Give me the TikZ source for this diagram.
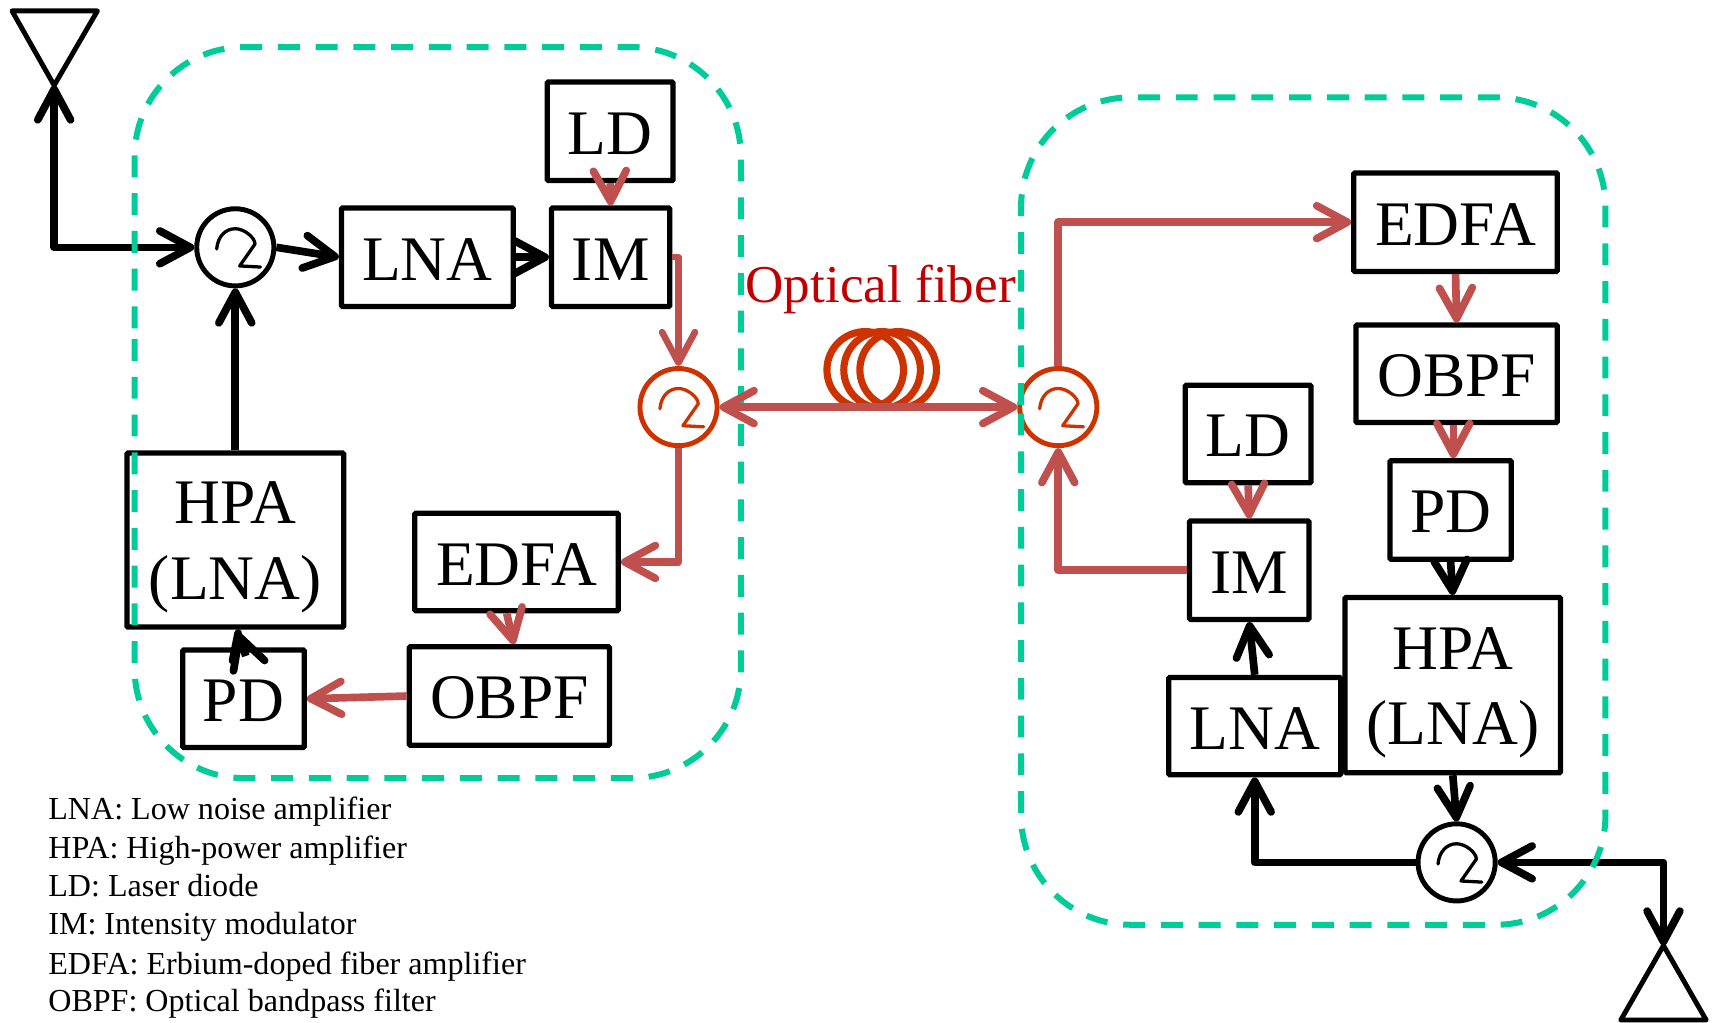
\documentclass[tikz,border=0pt]{standalone}
\usepackage{fontspec}
\setmainfont{Liberation Serif}
\usetikzlibrary{arrows.meta,calc}
\definecolor{fibre}{HTML}{C0504D}
\definecolor{coil}{HTML}{CC3300}
\definecolor{zone}{HTML}{00CC99}
\definecolor{fibretext}{HTML}{C00000}
\newcommand\lowone[1]{\raisebox{-2pt}[\height][\depth]{#1}}
\newcommand\lowtwo[2]{\raisebox{-6pt}[\height][\depth]{\begin{tabular}{@{}c@{}}#1\\#2\end{tabular}}}
\tikzset{
  x=1pt,y=-1pt,
  boxnode/.style={draw=black,line width=4.8pt,rounded corners=1pt,inner sep=0pt,align=center,
    font=\fontsize{58}{69}\selectfont},
  circnode/.style={circle,draw=#1,line width=4.5pt,minimum size=70.5pt,inner sep=0pt},
  barb/.tip={Straight Barb[length=28pt,width=30pt,round]},
  blackarrow/.style={draw=black,line width=7pt,line join=round},
  redarrow/.style={draw=fibre,line width=7pt,line join=round},
  zonebox/.style={draw=zone,line width=5.5pt,dash pattern=on 20pt off 14.5pt,rounded corners=100pt},
  legendtext/.style={anchor=base west,inner sep=0pt,font=\fontsize{29.3}{32}\selectfont},
  curl/.pic={\draw[line width=3pt,line join=round,line cap=round]
    (-17,1.5) .. controls (-16,-10) and (-9,-17) .. (0,-17)
    .. controls (8,-17) and (18,-9) .. (18,-3) -- (4,17) -- (23,18);},
}
\begin{document}
\begin{tikzpicture}
\useasboundingbox (0,0) rectangle (1568,934);
% left unit
\node[boxnode,minimum width=157pt,minimum height=90pt] (lnaL) at (390.5,235) {\lowone{LNA}};
\node[boxnode,minimum width=108pt,minimum height=90pt] (imL) at (558,235) {\lowone{IM}};
\node[boxnode,minimum width=115pt,minimum height=90pt] (ldL) at (557.5,120) {\lowone{LD}};
\node[boxnode,minimum width=198pt,minimum height=159pt] (hpaL) at (215,493.5) {\lowtwo{HPA}{(LNA)}};
\node[boxnode,minimum width=111pt,minimum height=89pt] (pdL) at (222.5,638.5) {\lowone{PD}};
\node[boxnode,minimum width=183pt,minimum height=90pt] (obpfL) at (465.5,636) {\lowone{OBPF}};
\node[boxnode,minimum width=186pt,minimum height=89pt] (edfaL) at (472,513.5) {\lowone{EDFA}};
\node[circnode=black] (c1) at (215,226) {};
\node[circnode=coil] (c2) at (620,372) {};
% right unit
\node[boxnode,minimum width=186pt,minimum height=90pt] (edfaR) at (1330,203) {\lowone{EDFA}};
\node[boxnode,minimum width=184pt,minimum height=89pt] (obpfR) at (1331,341.5) {\lowone{OBPF}};
\node[boxnode,minimum width=111pt,minimum height=90pt] (pdR) at (1325.5,466) {\lowone{PD}};
\node[boxnode,minimum width=197pt,minimum height=160pt] (hpaR) at (1327.5,626) {\lowtwo{HPA}{(LNA)}};
\node[boxnode,minimum width=115pt,minimum height=89pt] (ldR) at (1140.5,396.5) {\lowone{LD}};
\node[boxnode,minimum width=109pt,minimum height=90pt] (imR) at (1141.5,521) {\lowone{IM}};
\node[boxnode,minimum width=157pt,minimum height=89pt] (lnaR) at (1146.5,663.5) {\lowone{LNA}};
\node[circnode=coil] (c3) at (967,372) {};
\node[circnode=black] (c4) at (1331,788) {};
\pic[color=black] at (c1) {curl};
\pic[color=coil] at (c2) {curl};
\pic[color=coil] at (c3) {curl};
\pic[color=black] at (c4) {curl};
% antennas
\coordinate (antL) at (49.5,78);
\coordinate (antR) at (1520,864);
\draw[line width=4.5pt,line join=round] (antL) -- (11,10) -- (89,10) -- cycle;
\draw[line width=4.5pt,line join=round] (antR) -- (1481,932) -- (1559,932) -- cycle;
% black connectors
\draw[blackarrow,{barb}-{barb}] (antL) |- (c1.west);
\draw[blackarrow,-{barb}] (c1.east) -- (lnaL.west);
\draw[blackarrow,-{barb}] (lnaL.east) -- (imL.west);
\draw[blackarrow,-{barb}] (hpaL.north) -- (c1.south);
\coordinate (pdtip) at ($(hpaL.south)+(2.6,3)$);
\draw[blackarrow,line cap=round] ($(pdL.north)+(-10,12)$) -- (pdtip);
\draw[blackarrow,-{barb}] ($(pdtip)+(7,21)$) -- (pdtip);
\draw[blackarrow,-{barb}] (pdR.south) -- (hpaR.north);
\draw[blackarrow,-{barb}] (lnaR.north) -- (imR.south);
\draw[blackarrow,-{barb}] (hpaR.south) -- (c4.north);
\draw[blackarrow,-{barb}] (c4.west) -| (lnaR.south);
\draw[blackarrow,{barb}-{barb}] (antR) |- (c4.east);
% dashed zones
\draw[zonebox] (123,400) -- (123,43) -- (677,43) -- (677,711) -- (123,711) -- cycle;
\draw[zonebox] (933,470) -- (933,89) -- (1467,89) -- (1467,845) -- (933,845) -- cycle;
% fibre coil
\begin{scope}
\clip (745,290) rectangle (870,372);
\draw[coil,line width=6.5pt] (790.6,338) circle[radius=35pt];
\draw[coil,line width=6.5pt] (806,338) circle[radius=35pt];
\draw[coil,line width=6.5pt] (820.7,338) circle[radius=35pt];
\end{scope}
% optical connectors
\draw[redarrow,-{barb}] (ldL.south) -- (imL.north);
\draw[redarrow,-{barb},line width=6pt] (imL.east) -| (c2.north);
\draw[redarrow,-{barb}] (c2.south) |- (edfaL.east);
\draw[redarrow,-{barb}] ($(edfaL.south)+(-9,0)$) -- ($(obpfL.north)+(4,0)$);
\draw[redarrow,-{barb}] (obpfL.west) -- (pdL.east);
\draw[redarrow,{barb}-{barb}] (c2.east) -- (c3.west);
\draw[redarrow,-{barb}] (c3.north) |- (edfaR.west);
\draw[redarrow,-{barb}] (edfaR.south) -- (obpfR.north);
\draw[redarrow,-{barb}] ($(obpfR.south)+(-3,0)$) -- ($(pdR.north)+(2.5,0)$);
\draw[redarrow,-{barb}] (ldR.south) -- (imR.north);
\draw[redarrow,-{barb}] (imR.west) -| (c3.south);
% labels
\node[anchor=base west,inner sep=0pt,text=fibretext,font=\fontsize{48.6}{54}\selectfont] (fiberlabel) at (681,276) {Optical fiber};
\node[legendtext] (leg1) at (44,749) {LNA: Low noise amplifier};
\node[legendtext] (leg2) at (44,784) {HPA: High-power amplifier};
\node[legendtext] (leg3) at (44,819) {LD: Laser diode};
\node[legendtext] (leg4) at (44,854) {IM: Intensity modulator};
\node[legendtext] (leg5) at (44,890) {EDFA: Erbium-doped fiber amplifier};
\node[legendtext] (leg6) at (44,924) {OBPF: Optical bandpass filter};
\end{tikzpicture}
\end{document}
